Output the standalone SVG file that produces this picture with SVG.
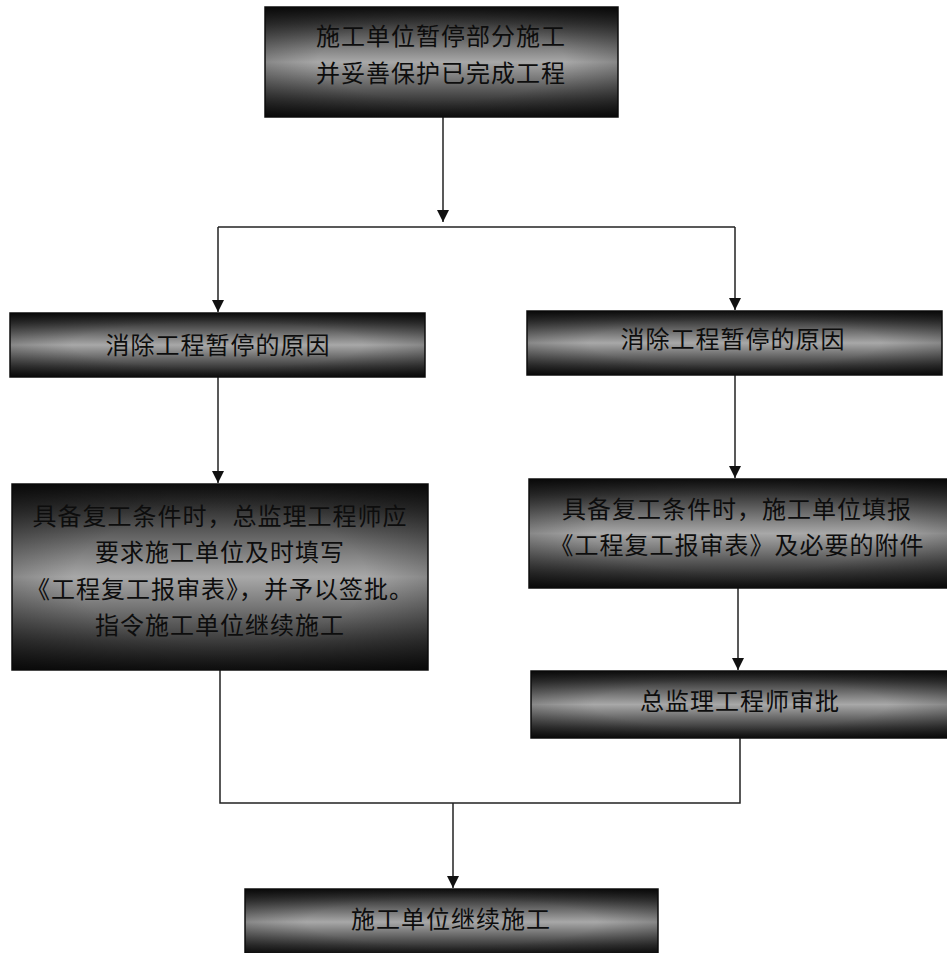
<svg xmlns="http://www.w3.org/2000/svg" width="947" height="953" viewBox="0 0 947 953">
<defs>
<linearGradient id="g" x1="0" y1="0" x2="0" y2="1">
<stop offset="0" stop-color="#101010"/>
<stop offset="0.15" stop-color="#3a3a3a"/>
<stop offset="0.5" stop-color="#a8a8a8"/>
<stop offset="0.85" stop-color="#3a3a3a"/>
<stop offset="1" stop-color="#101010"/>
</linearGradient>
<radialGradient id="v" cx="0.5" cy="0.5" r="0.7">
<stop offset="0.5" stop-color="#000" stop-opacity="0"/>
<stop offset="1" stop-color="#000" stop-opacity="0.45"/>
</radialGradient>
<marker id="a" viewBox="0 0 10 10" refX="10" refY="5" markerWidth="12" markerHeight="12" markerUnits="userSpaceOnUse" orient="auto">
<path d="M0,0 L10,5 L0,10 z" fill="#111"/>
</marker>
<style>
.b{fill:url(#g);stroke:#111;stroke-width:1.5}
.s{fill:url(#v)}
.t{font-family:"Liberation Serif","Noto Sans CJK SC",serif;font-size:24px;fill:#0d0d0d;text-anchor:middle;letter-spacing:1px}
.l{fill:none;stroke:#222;stroke-width:1.5}
</style>
</defs>
<g id="connectors">
<path class="l" d="M443,117 V222" marker-end="url(#a)"/>
<path class="l" d="M218,227 H735"/>
<path class="l" d="M218,227 V312" marker-end="url(#a)"/>
<path class="l" d="M735,227 V310" marker-end="url(#a)"/>
<path class="l" d="M218,377 V483" marker-end="url(#a)"/>
<path class="l" d="M735,375 V478" marker-end="url(#a)"/>
<path class="l" d="M738,588 V670" marker-end="url(#a)"/>
<path class="l" d="M220,670 V803 H740 V738"/>
<path class="l" d="M453,803 V888" marker-end="url(#a)"/>
</g>
<g id="n1">
<rect class="b" x="265" y="7" width="353" height="110"/>
<rect class="s" x="265" y="7" width="353" height="110"/>
<text class="t" x="441" y="45">施工单位暂停部分施工</text>
<text class="t" x="441" y="82">并妥善保护已完成工程</text>
</g>
<g id="n2">
<rect class="b" x="10" y="313" width="415" height="64"/>
<rect class="s" x="10" y="313" width="415" height="64"/>
<text class="t" x="218" y="354">消除工程暂停的原因</text>
</g>
<g id="n3">
<rect class="b" x="527" y="311" width="415" height="64"/>
<rect class="s" x="527" y="311" width="415" height="64"/>
<text class="t" x="733" y="348">消除工程暂停的原因</text>
</g>
<g id="n4">
<rect class="b" x="12" y="484" width="416" height="186"/>
<rect class="s" x="12" y="484" width="416" height="186"/>
<text class="t" x="220" y="525">具备复工条件时，总监理工程师应</text>
<text class="t" x="220" y="561">要求施工单位及时填写</text>
<text class="t" x="220" y="598">《工程复工报审表》，并予以签批。</text>
<text class="t" x="220" y="634">指令施工单位继续施工</text>
</g>
<g id="n5">
<rect class="b" x="529" y="479" width="420" height="109"/>
<rect class="s" x="529" y="479" width="420" height="109"/>
<text class="t" x="737" y="518">具备复工条件时，施工单位填报</text>
<text class="t" x="737" y="554">《工程复工报审表》及必要的附件</text>
</g>
<g id="n6">
<rect class="b" x="531" y="671" width="418" height="67"/>
<rect class="s" x="531" y="671" width="418" height="67"/>
<text class="t" x="740" y="710">总监理工程师审批</text>
</g>
<g id="n7">
<rect class="b" x="245" y="889" width="413" height="66"/>
<rect class="s" x="245" y="889" width="413" height="66"/>
<text class="t" x="451" y="928">施工单位继续施工</text>
</g>
</svg>
